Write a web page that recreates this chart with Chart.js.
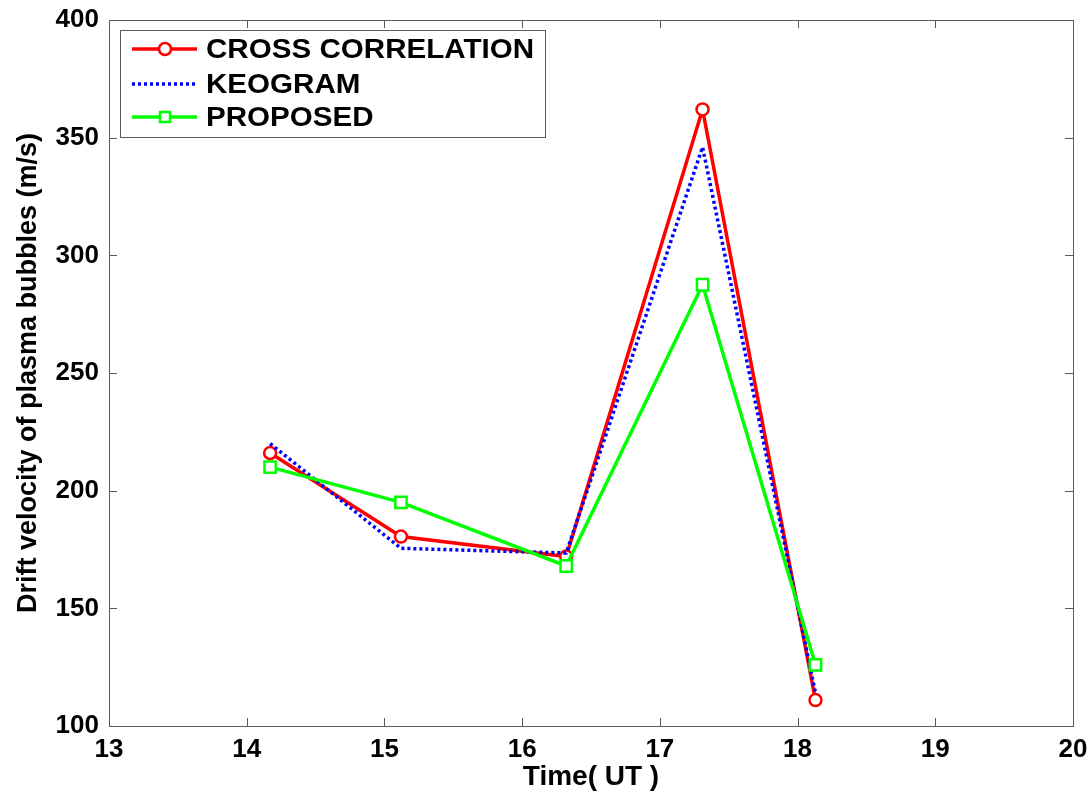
<!DOCTYPE html>
<html><head><meta charset="utf-8">
<script src="https://cdn.jsdelivr.net/npm/chart.js@4/dist/chart.umd.min.js"></script>
<style>html,body{margin:0;padding:0;background:#fff}#w{width:1091px;height:794px}</style>
</head><body><div id="w"><canvas id="c" width="1091" height="794"></canvas></div>
<script>
const timeCross = [14.17, 15.12, 16.32, 17.31, 18.13];
const cross = [216, 180.5, 172, 362, 111];
const timeKeo = [14.17, 15.12, 16.32, 17.31, 18.13];
const keogram = [220, 175.5, 173.5, 346, 114];
const timeProp = [14.17, 15.12, 16.32, 17.31, 18.13];
const proposed = [210, 195, 168, 287.5, 126];
const xTicks = [13, 14, 15, 16, 17, 18, 19, 20];
const yTicks = [100, 150, 200, 250, 300, 350, 400];
const names = ['CROSS CORRELATION', 'KEOGRAM', 'PROPOSED'];

const FONT = '"Liberation Sans", Arial, sans-serif';
const pts = (xs, ys) => xs.map((x, i) => ({x, y: ys[i]}));

const frame = {
  id: 'frame',
  afterDraw(chart) {
    const ctx = chart.ctx, a = chart.chartArea;
    const xs = chart.scales.x, ys = chart.scales.y;
    ctx.save();
    ctx.strokeStyle = '#5a5a5a';
    ctx.lineWidth = 1;
    ctx.strokeRect(a.left + 0.5, a.top + 0.5, a.right - a.left, a.bottom - a.top);
    const L = 8;
    ctx.beginPath();
    xTicks.forEach(v => {
      const p = Math.round(xs.getPixelForValue(v)) + 0.5;
      ctx.moveTo(p, a.bottom); ctx.lineTo(p, a.bottom - L);
      ctx.moveTo(p, a.top); ctx.lineTo(p, a.top + L);
    });
    yTicks.forEach(v => {
      const p = Math.round(ys.getPixelForValue(v)) + 0.5;
      ctx.moveTo(a.left, p); ctx.lineTo(a.left + L, p);
      ctx.moveTo(a.right, p); ctx.lineTo(a.right - L, p);
    });
    ctx.stroke();

    // legend
    const bx = a.left + 11, by = a.top + 10, bw = 425, bh = 107;
    ctx.fillStyle = '#fff';
    ctx.fillRect(bx, by, bw, bh);
    ctx.strokeStyle = '#5a5a5a';
    ctx.strokeRect(bx + 0.5, by + 0.5, bw, bh);
    const rows = [by + 19, by + 54, by + 87];
    chart.data.datasets.forEach((ds, i) => {
      const y = rows[i];
      ctx.save();
      ctx.strokeStyle = ds.borderColor;
      ctx.lineWidth = ds.borderWidth;
      ctx.setLineDash(ds.borderDash || []);
      ctx.beginPath(); ctx.moveTo(bx + 12, y); ctx.lineTo(bx + 77, y); ctx.stroke();
      ctx.setLineDash([]);
      if (ds.pointRadius > 0) {
        ctx.fillStyle = '#fff';
        ctx.lineWidth = ds.pointBorderWidth;
        const cx = bx + 45;
        ctx.beginPath();
        if (ds.pointStyle === 'rect') ctx.rect(cx - 5, y - 5, 10, 10);
        else ctx.arc(cx, y, 6, 0, Math.PI * 2);
        ctx.fill(); ctx.stroke();
      }
      ctx.restore();
      ctx.fillStyle = '#000';
      ctx.font = 'bold 29px ' + FONT;
      ctx.textBaseline = 'middle';
      ctx.save();
      ctx.translate(bx + 86, y + 1);
      ctx.scale(1.02, 0.95);
      ctx.fillText(names[i], 0, 0);
      ctx.restore();
    });
    ctx.restore();
  }
};

new Chart(document.getElementById('c'), {
  type: 'line',
  data: {
    datasets: [
      {label: names[0], data: pts(timeCross, cross), borderColor: '#ff0000', backgroundColor: '#fff',
       borderWidth: 3.5, pointStyle: 'circle', pointRadius: 6, pointBorderWidth: 2.5,
       pointBackgroundColor: '#fff', pointBorderColor: '#ff0000', order: 2},
      {label: names[1], data: pts(timeKeo, keogram), borderColor: '#0000ff', backgroundColor: '#fff',
       borderWidth: 3.5, borderDash: [3, 3], pointRadius: 0, order: 1},
      {label: names[2], data: pts(timeProp, proposed), borderColor: '#00ff00', backgroundColor: '#fff',
       borderWidth: 3.5, pointStyle: 'rect', pointRadius: 8, pointBorderWidth: 2.5,
       pointBackgroundColor: '#fff', pointBorderColor: '#00ff00', order: 0}
    ]
  },
  options: {
    responsive: false,
    animation: false,
    layout: {padding: {top: 20, right: 18, left: 12, bottom: 0}},
    plugins: {legend: {display: false}, tooltip: {enabled: false}},
    scales: {
      x: {
        type: 'linear', min: 13, max: 20,
        afterBuildTicks: s => { s.ticks = xTicks.map(v => ({value: v})); },
        afterFit: s => { s.height = 68; s.paddingLeft = 0; s.paddingRight = 0; },
        grid: {display: false, drawTicks: false},
        border: {display: false},
        ticks: {color: '#000', padding: 8, font: {family: FONT, weight: 'bold', size: 26}},
        title: {display: true, text: 'Time( UT )', color: '#000', padding: {top: 0, bottom: 0},
                font: {family: FONT, weight: 'bold', size: 28}}
      },
      y: {
        type: 'linear', min: 100, max: 400,
        afterBuildTicks: s => { s.ticks = yTicks.map(v => ({value: v})); },
        afterFit: s => { s.width = 97; s.paddingTop = 0; s.paddingBottom = 0; },
        grid: {display: false, drawTicks: false},
        border: {display: false},
        ticks: {color: '#000', padding: 10, font: {family: FONT, weight: 'bold', size: 26}},
        title: {display: true, text: 'Drift velocity of plasma bubbles (m/s)', color: '#000',
                padding: {top: 0, bottom: 4}, font: {family: FONT, weight: 'bold', size: 27}}
      }
    }
  },
  plugins: [frame]
});
</script></body></html>
